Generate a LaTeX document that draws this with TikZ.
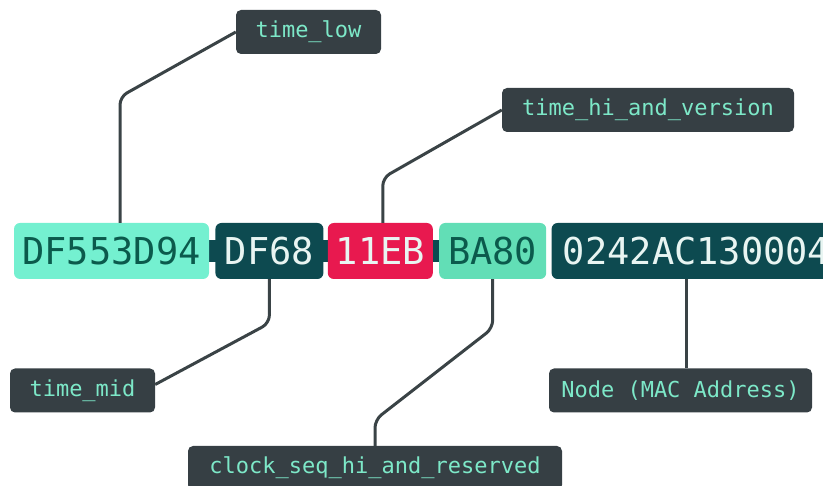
\documentclass[tikz,border=0pt]{standalone}
\usepackage{fontspec}
\setmonofont{DejaVu Sans Mono}
\usetikzlibrary{positioning, calc}
\definecolor{mintlight}{HTML}{74F0D0}
\definecolor{mintmid}{HTML}{62DEB6}
\definecolor{tealdark}{HTML}{0D4A50}
\definecolor{uuidred}{HTML}{E8194F}
\definecolor{slate}{HTML}{363F44}
\definecolor{wiregray}{HTML}{3A4346}
\definecolor{tagtext}{HTML}{7DE8C8}
\definecolor{inkteal}{HTML}{0B5A4C}
\definecolor{inkpale}{HTML}{E8F5F2}
\tikzset{
    field/.style={
        rectangle,
        rounded corners=6pt,
        minimum height=56pt,
        inner sep=0pt,
        font=\ttfamily\fontsize{37}{37}\selectfont,
    },
    tag/.style={
        rectangle,
        rounded corners=5pt,
        fill=slate,
        text=tagtext,
        minimum height=44pt,
        inner sep=0pt,
        font=\ttfamily\fontsize{22}{22}\selectfont,
    },
    wire/.style={
        draw=wiregray,
        line width=3pt,
        rounded corners=8pt,
    },
}
\begin{document}
\begin{tikzpicture}[x=1pt,y=1pt,node distance=6pt]
      \clip (0,0) rectangle (823,486);

      % dark band showing through the seams
      \fill[tealdark] (207,224) rectangle (440,246);

      % the five uuid fields
      \node [field, fill=mintlight, text=inkteal, minimum width=195pt] (lo) at (111.5,235) {DF553D94};
      \node [field, fill=tealdark, text=inkpale, minimum width=108pt, right=6pt of lo] (mid) {DF68};
      \node [field, fill=uuidred, text=inkpale, minimum width=105pt, right=4pt of mid] (hi) {11EB};
      \node [field, fill=mintmid, text=inkteal, minimum width=107pt, right=6pt of hi] (clk) {BA80};
      \node [field, fill=tealdark, text=inkpale, minimum width=290pt, anchor=west, right=5pt of clk] (mac) {0242AC130004};

      % labels
      \node [tag, minimum width=145pt] (tlow) at (308.5,454) {time\_low};
      \node [tag, minimum width=292pt] (thv) at (648,376) {time\_hi\_and\_version};
      \node [tag, minimum width=145pt] (tmid) at (82.5,95.5) {time\_mid};
      \node [tag, minimum width=263pt] (tmac) at (680.5,95.5) {Node (MAC Address)};
      \node [tag, minimum width=374pt] (tclk) at (375,18) {clock\_seq\_hi\_and\_reserved};

      % leader lines
      \draw[wire] ([xshift=8.5pt]lo.north) -- ++(0,126) -- (tlow.west);
      \draw[wire] ([xshift=2.5pt]hi.north) -- ++(0,45) -- (thv.west);
      \draw[wire] (mid.south) -- ++(0,-44) -- ([yshift=6pt]tmid.east);
      \draw[wire] (clk.south) -- ++(0,-49) -- ($(tclk.north)+(0,26)$) -- (tclk.north);
      \draw[wire] ([xshift=5.5pt]tmac.north) -- ([xshift=5.5pt]tmac.north |- mac.south);
\end{tikzpicture}
\end{document}
